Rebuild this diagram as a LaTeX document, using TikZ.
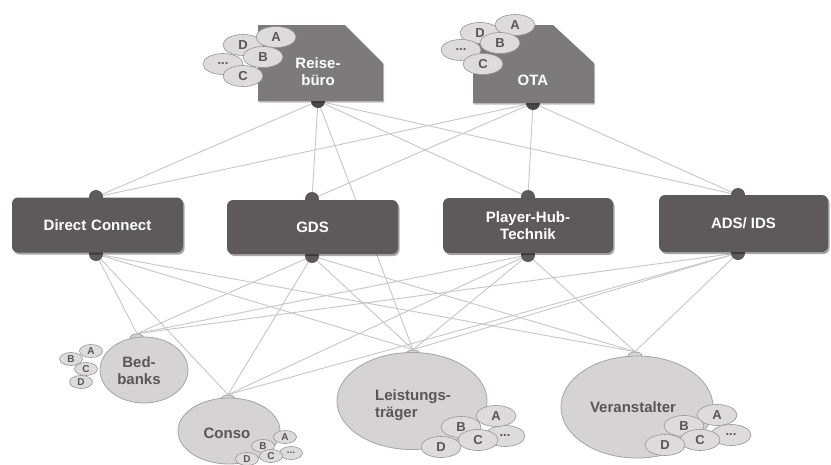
\documentclass[tikz,border=0pt]{standalone}
\usepackage{fontspec}
\setmainfont{Liberation Sans}
\usetikzlibrary{shadows,backgrounds,shapes.geometric}

\definecolor{boxgray}{RGB}{94,90,92}
\definecolor{topgray}{RGB}{124,122,123}
\definecolor{dotgray}{RGB}{72,70,71}
\definecolor{ovalfill}{RGB}{213,211,212}
\definecolor{ovalline}{RGB}{165,163,164}
\definecolor{bubfill}{RGB}{221,219,220}
\definecolor{bubline}{RGB}{150,148,149}
\definecolor{linegray}{RGB}{200,198,199}
\definecolor{txtgray}{RGB}{88,86,87}

\newcommand\bigfont{\fontsize{15}{17}\selectfont\bfseries}
\newcommand\midfont{\fontsize{13}{15}\selectfont\bfseries}
\newcommand\smallfont{\fontsize{10}{11}\selectfont\bfseries}

\tikzset{
  link/.style={draw=linegray, line width=0.9pt},
  midbox/.style={rectangle, rounded corners=6pt, fill=boxgray, text=white,
    font=\bigfont, align=center, inner sep=0pt,
    drop shadow={shadow xshift=1.5pt, shadow yshift=-2pt, opacity=0.35, fill=black}},
  middot/.style={circle, fill=boxgray, minimum size=14pt, inner sep=0pt},
  topdot/.style={circle, fill=dotgray, minimum size=14pt, inner sep=0pt},
  topshape/.style={fill=topgray,
    drop shadow={shadow xshift=1pt, shadow yshift=-1.5pt, opacity=0.25, fill=black}},
  toptext/.style={text=white, font=\bigfont, align=center},
  oval/.style={ellipse, fill=ovalfill, draw=ovalline, line width=0.8pt, inner sep=0pt},
  nub/.style={ellipse, fill=ovalfill, draw=ovalline, line width=0.8pt,
    minimum width=14pt, minimum height=8pt, inner sep=0pt},
  ovaltext/.style={text=txtgray, font=\bigfont, align=center},
  bub/.style={ellipse, fill=bubfill, draw=bubline, line width=0.6pt, inner sep=0pt,
    text=txtgray, font=\midfont, minimum width=40pt, minimum height=21pt},
  smallbub/.style={bub, font=\smallfont, minimum width=23pt, minimum height=13pt},
}

\begin{document}
\begin{tikzpicture}[x=1pt,y=-1pt]
\pgfdeclarelayer{background}
\pgfsetlayers{background,main}

\useasboundingbox (0,0) rectangle (831,464);

% ---------- top row: Reisebüro and OTA ----------
\node[topdot] (rbdot) at (318,101) {};
\node[topdot] (otadot) at (533,103) {};
\path[topshape] (258,25) -- (345,25) -- (383,63) -- (383,101) -- (258,101) -- cycle;
\path[topshape] (473,25) -- (553,25) -- (594,63) -- (594,103) -- (473,103) -- cycle;
\node[toptext] (rb) at (318,72) {Reise-\\büro};
\node[toptext] (ota) at (533,80) {OTA};

% bubbles of Reisebüro
\node[bub] (rbD) at (243,45) {D};
\node[bub] (rbA) at (276,37) {A};
\node[bub] (rbE) at (223,64) {...};
\node[bub] (rbC) at (243,76) {C};
\node[bub] (rbB) at (263,57) {B};

% bubbles of OTA
\node[bub] (otaD) at (480,33) {D};
\node[bub] (otaA) at (515,25) {A};
\node[bub] (otaE) at (461,50) {...};
\node[bub] (otaC) at (483,64) {C};
\node[bub] (otaB) at (500,43) {B};

% ---------- middle row ----------
\node[middot] (dcin)  at (96,197) {};
\node[middot] (dcout) at (96,254) {};
\node[middot] (gdsin)  at (312,199) {};
\node[middot] (gdsout) at (312,256) {};
\node[middot] (phtin)  at (528,197) {};
\node[middot] (phtout) at (528,255) {};
\node[middot] (adsin)  at (738,195) {};
\node[middot] (adsout) at (738,253) {};

\node[midbox, minimum width=171pt, minimum height=55pt] (dc)  at (97.5,225) {Direct\hspace{5pt}Connect};
\node[midbox, minimum width=171pt, minimum height=54pt] (gds) at (312.5,227) {GDS};
\node[midbox, minimum width=170pt, minimum height=55pt] (pht) at (528,225.5) {Player-Hub-\\Technik};
\node[midbox, minimum width=169pt, minimum height=57pt] (ads) at (743.5,223.5) {ADS/ IDS};

% ---------- bottom row ----------
\node[nub] (bbnub) at (137,338) {};
\node[nub] (conub) at (228,399) {};
\node[nub] (lenub) at (413,354) {};
\node[nub] (venub) at (635,356) {};

\node[oval, minimum width=88pt, minimum height=66pt] (bb) at (144,370) {};
\node[oval, minimum width=102pt, minimum height=66pt] (co) at (229,431) {};
\node[oval, minimum width=150pt, minimum height=97pt] (le) at (412,401) {};
\node[oval, minimum width=152pt, minimum height=102pt] (ve) at (637,407) {};

\node[ovaltext] (bbt) at (139,371) {Bed-\\banks};
\node[ovaltext] (cot) at (227,433) {Conso};
\node[ovaltext, align=left] (let) at (413,405) {Leistungs-\\träger};
\node[ovaltext] (vet) at (633,407) {Veranstalter};

% bubbles of Bedbanks
\node[smallbub] (bbA) at (91,351) {A};
\node[smallbub] (bbB) at (71,359) {B};
\node[smallbub] (bbC) at (86,369) {C};
\node[smallbub] (bbD) at (81,382) {D};

% bubbles of Conso
\node[smallbub] (coA) at (285,437) {A};
\node[smallbub] (coE) at (291,453) {...};
\node[smallbub] (coB) at (263,446) {B};
\node[smallbub] (coC) at (271,456) {C};
\node[smallbub] (coD) at (247,459) {D};

% bubbles of Leistungsträger
\node[bub] (leE) at (505,436) {...};
\node[bub] (leA) at (496,416) {A};
\node[bub] (leB) at (461,427) {B};
\node[bub] (leC) at (478,440) {C};
\node[bub] (leD) at (441,447) {D};

% bubbles of Veranstalter
\node[bub] (veE) at (731,435) {...};
\node[bub] (veA) at (717,415) {A};
\node[bub] (veB) at (684,426) {B};
\node[bub] (veC) at (700,440) {C};
\node[bub] (veD) at (665,445) {D};

% ---------- white page and connectors (behind everything) ----------
\begin{pgfonlayer}{background}
  \fill[white] (0,0) rectangle (831,464);
  \foreach \s in {rbdot,otadot}
    \foreach \t in {dcin,gdsin,phtin,adsin}
      \draw[link] (\s.center) -- (\t.center);
  \draw[link] (rbdot.center) -- (lenub.north);
  \foreach \s in {dcout,gdsout,phtout,adsout}
    \foreach \t in {bbnub,conub,lenub,venub}
      \draw[link] (\s.center) -- (\t.north);
\end{pgfonlayer}
\end{tikzpicture}
\end{document}
